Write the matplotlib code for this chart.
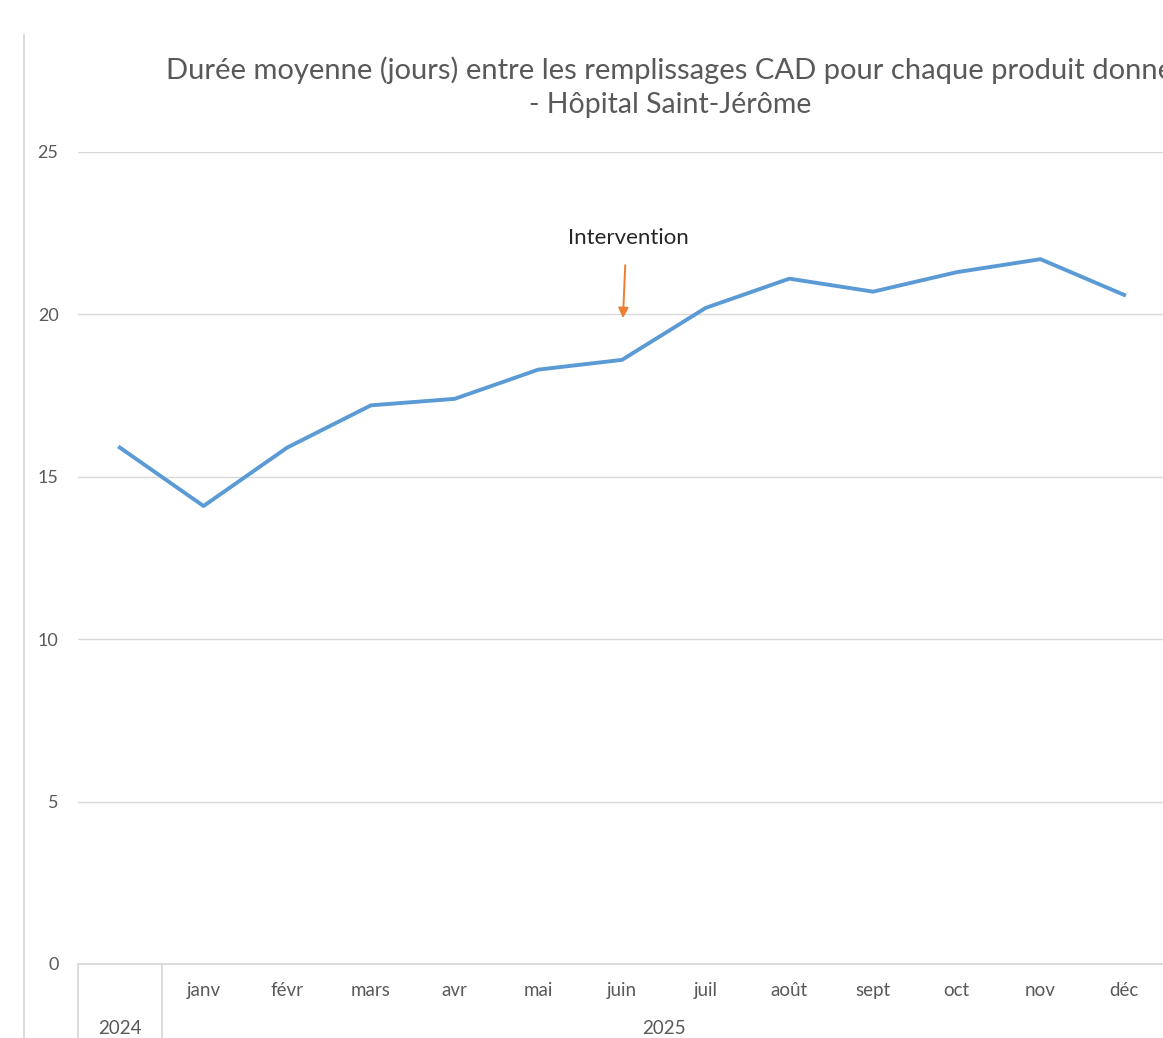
import matplotlib
matplotlib.use('Agg')
from matplotlib import pyplot as plt
from matplotlib.lines import Line2D
from matplotlib import transforms

plt.rcParams['font.family'] = ['Lato', 'DejaVu Sans']

# données
months = ['', 'janv', 'févr', 'mars', 'avr', 'mai', 'juin', 'juil',
          'août', 'sept', 'oct', 'nov', 'déc']
years = ['2024', '2025']
year_span = [(0, 0), (1, 12)]
duree = [15.9, 14.1, 15.9, 17.2, 17.4, 18.3, 18.6, 20.2,
         21.1, 20.7, 21.3, 21.7, 20.6]
intervention_idx = 6

gray = '#595959'
grid = '#d9d9d9'

fig = plt.figure(figsize=(11.63, 10.38), dpi=100)
W, H = 1163, 1038
ax = fig.add_axes([78 / W, 1 - 964 / H, (1166 - 78) / W, 812 / H])

x = list(range(len(duree)))
ax.plot(x, duree, color='#5b9bd5', lw=2.8, solid_joinstyle='round')

ax.set_xlim(-0.5, len(duree) - 0.5)
ax.set_ylim(0, 25)
ax.set_yticks([0, 5, 10, 15, 20, 25])
ax.yaxis.grid(True, color=grid, lw=1)
ax.set_axisbelow(True)
ax.tick_params(axis='y', length=0, pad=14, labelsize=13, labelcolor=gray)
ax.set_xticks([])
for s in ['top', 'right', 'left']:
    ax.spines[s].set_visible(False)
ax.spines['bottom'].set_color(grid)
ax.spines['bottom'].set_linewidth(1.3)

# axe multi-niveaux
tr = transforms.blended_transform_factory(ax.transData, ax.transAxes)
for i, m in enumerate(months):
    ax.text(i, -0.033, m, transform=tr, ha='center', va='center',
            fontsize=13.5, color=gray)
for y, (a, b) in zip(years, year_span):
    ax.text((a + b) / 2, -0.080, y, transform=tr, ha='center', va='center',
            fontsize=13.5, color=gray)
for b in [-0.5, 0.5, len(duree) - 0.5]:
    ax.plot([b, b], [0, -0.12], transform=tr, color=grid, lw=1.3, clip_on=False)

# intervention
ax.annotate('', xy=(intervention_idx + 0.01, 19.8),
            xytext=(intervention_idx + 0.04, 21.6),
            arrowprops=dict(arrowstyle='-|>', color='#ed7d31', lw=1.4,
                            mutation_scale=15))
ax.text(intervention_idx + 0.08, 22.35, 'Intervention', ha='center',
        va='center', fontsize=16, color='#262626')

fig.text(670 / W, 1 - 70 / H,
         'Durée moyenne (jours) entre les remplissages CAD pour chaque produit donné',
         ha='center', va='center', fontsize=21, color=gray)
fig.text(670 / W, 1 - 105 / H, '- Hôpital Saint-Jérôme',
         ha='center', va='center', fontsize=20.5, color=gray)

fig.add_artist(Line2D([24 / W, 24 / W], [1 - 35 / H, 0], color=grid, lw=1.3))

fig.savefig('out.png', dpi=100)
